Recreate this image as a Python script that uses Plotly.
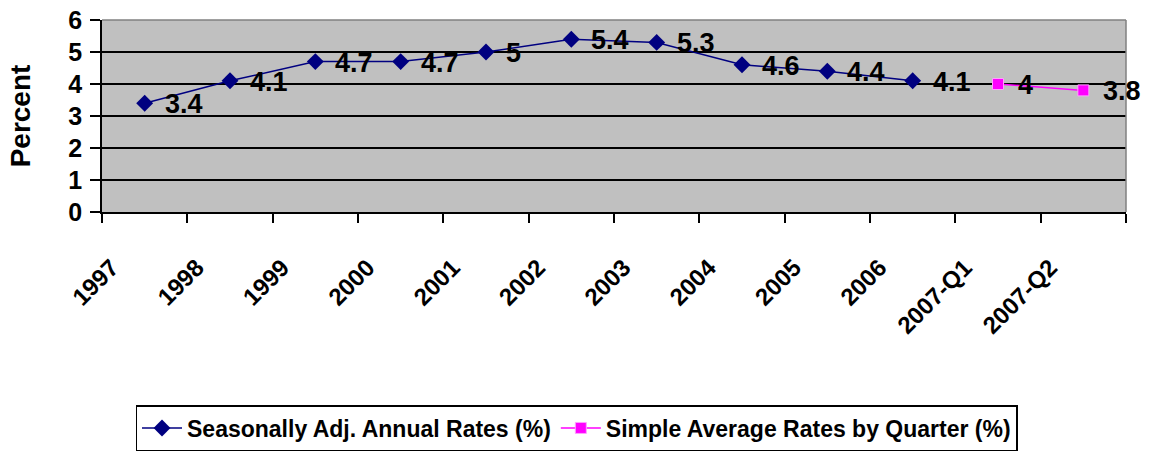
import plotly.graph_objects as go

categories = ["1997", "1998", "1999", "2000", "2001", "2002", "2003",
              "2004", "2005", "2006", "2007-Q1", "2007-Q2"]
seasonal_rates = [3.4, 4.1, 4.7, 4.7, 5.0, 5.4, 5.3, 4.6, 4.4, 4.1, None, None]
simple_avg_rates = [None, None, None, None, None, None, None, None, None, None, 4.0, 3.8]
y_ticks = [0, 1, 2, 3, 4, 5, 6]

FONT = "Arial, Liberation Sans, sans-serif"

fig = go.Figure()
fig.add_trace(go.Scatter(
    x=categories, y=seasonal_rates, mode="lines+markers",
    name="Seasonally Adj. Annual Rates (%)",
    line=dict(color="#000080", width=1.5),
    marker=dict(symbol="diamond", size=13, color="#000080"),
))
fig.add_trace(go.Scatter(
    x=categories, y=simple_avg_rates, mode="lines+markers",
    name="Simple Average Rates by Quarter (%)",
    line=dict(color="#FF00FF", width=1.5),
    marker=dict(symbol="square", size=11, color="#FF00FF",
                line=dict(color="#FFA0FF", width=1)),
))

def fmt(v):
    return str(int(v)) if float(v).is_integer() else f"{v:g}"

for series in (seasonal_rates, simple_avg_rates):
    for i, v in enumerate(series):
        if v is None:
            continue
        fig.add_annotation(
            x=i, y=v, text=fmt(v), showarrow=False,
            xanchor="left", yanchor="middle", xshift=18, yshift=-1,
            font=dict(family=FONT, size=27, color="black", weight="bold"),
        )

# top and right border of plot area
fig.add_shape(type="line", xref="paper", yref="paper", x0=0, y0=1, x1=1, y1=1,
              line=dict(color="#808080", width=1.5))
fig.add_shape(type="line", xref="paper", yref="paper", x0=1, y0=1, x1=1, y1=0,
              line=dict(color="#808080", width=1.5))

fig.update_layout(
    width=1153, height=451,
    margin=dict(l=102, r=27, t=20, b=239, autoexpand=False),
    paper_bgcolor="white", plot_bgcolor="#C0C0C0",
    font=dict(family=FONT, color="black"),
    showlegend=True,
    legend=dict(
        orientation="h", xref="container", yref="container",
        x=0.5, xanchor="center", y=-0.013, yanchor="bottom",
        bordercolor="black", borderwidth=1.5, bgcolor="white",
        font=dict(family=FONT, size=23, color="black", weight="bold"),
        itemwidth=40,
    ),
    xaxis=dict(
        type="category", categoryorder="array", categoryarray=categories,
        tickson="boundaries", ticks="outside", ticklen=9, tickwidth=1.5,
        tickcolor="black", showline=True, linecolor="black", linewidth=2,
        showgrid=False, tickangle=-45, ticklabelshift=-33, ticklabelstandoff=30,
        tickfont=dict(family=FONT, size=24, color="black", weight="bold"),
        range=[-0.5, len(categories) - 0.5], automargin=False,
    ),
    yaxis=dict(
        range=[0, 6], tickvals=y_ticks, ticks="outside", ticklen=10,
        tickwidth=1.5, tickcolor="black", showline=True, linecolor="black",
        linewidth=1.5, showgrid=True, gridcolor="black", gridwidth=1.5,
        zeroline=False, automargin=False, ticklabelstandoff=3,
        tickfont=dict(family=FONT, size=25, color="black", weight="bold"),
        title=dict(text="Percent", standoff=30,
                   font=dict(family=FONT, size=28, color="black", weight="bold")),
    ),
)

fig.write_html(
    "out.html",
    config={"displayModeBar": False},
    post_script="document.body.style.margin='0';document.body.style.overflow='hidden';",
)
